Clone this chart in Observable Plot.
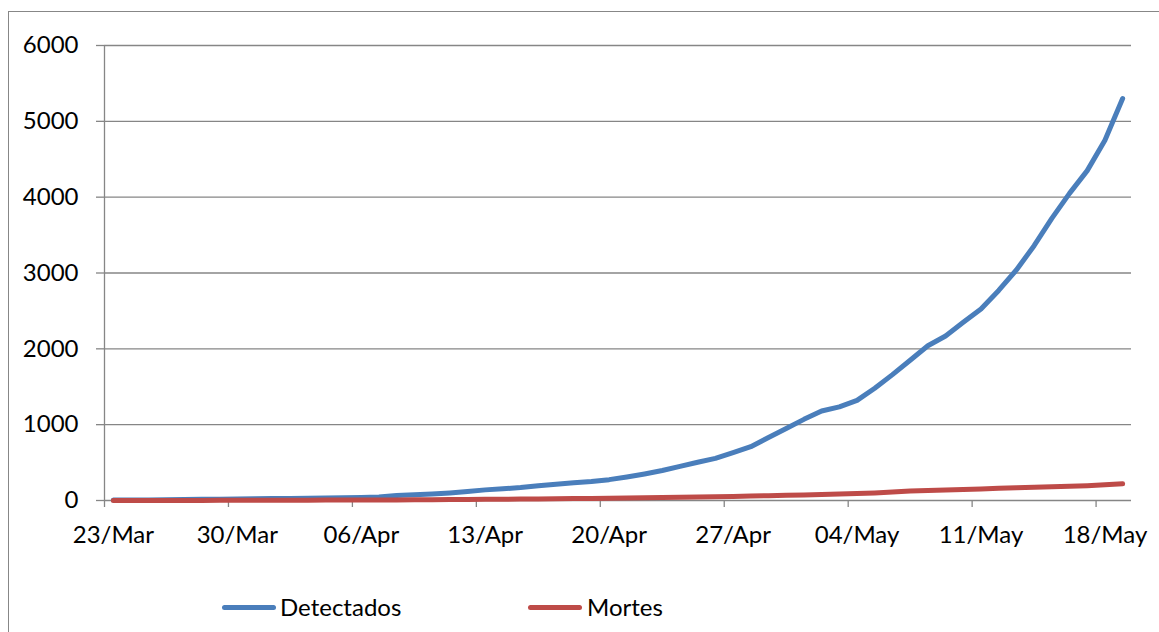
<!DOCTYPE html>
<html>
<head>
<meta charset="utf-8">
<script src="https://cdn.jsdelivr.net/npm/d3@7"></script>
<script src="https://cdn.jsdelivr.net/npm/@observablehq/plot@0.6"></script>
<style>
  body { margin: 0; background: #fff; font-family: Lato, "Open Sans", sans-serif; }
  #wrap { position: relative; width: 1159px; height: 632px; overflow: hidden; background: #fff; }
  #frame { position: absolute; left: 8px; top: 11px; width: 1400px; height: 900px; border: 1px solid #878787; box-sizing: border-box; }
  #chart { position: absolute; left: 0; top: 0; }
  #legend { position: absolute; left: 0; top: 592px; width: 1159px; height: 32px; font-size: 24px; color: #000; }
  .sw { position: absolute; top: 13px; width: 54px; height: 5px; border-radius: 3px; }
  .lb { position: absolute; top: 0; line-height: 30px; }
</style>
</head>
<body>
<div id="wrap">
  <div id="frame"></div>
  <div id="chart"></div>
  <div id="legend"></div>
</div>
<script>
// ---- data ----
const startDate = "2020-03-23";
const seriesNames = ["Detectados", "Mortes"];
const seriesColors = ["#4A7EBB", "#BE4B48"];
const detectados = [
  5, 6, 8, 10, 12, 15, 18,
  20, 22, 25, 28, 30, 33, 36,
  38, 45, 65, 75, 85, 100, 120,
  140, 155, 170, 195, 215, 235, 250,
  275, 310, 350, 395, 450, 505, 555,
  630, 710, 830, 950, 1070, 1180, 1235,
  1320, 1480, 1660, 1850, 2040, 2170, 2350,
  2525, 2770, 3040, 3360, 3720, 4050, 4350,
  4750, 5300
];
const mortes = [
  0, 0, 0, 1, 1, 1, 2,
  2, 3, 3, 4, 4, 5, 5,
  6, 7, 8, 9, 10, 12, 14,
  15, 17, 19, 21, 23, 25, 27,
  29, 32, 35, 38, 42, 46, 50,
  54, 58, 63, 68, 74, 80, 86,
  93, 100, 112, 125, 132, 138, 145,
  152, 160, 168, 174, 180, 188, 195,
  207, 220
];
const yTicks = [0, 1000, 2000, 3000, 4000, 5000, 6000];
const xTickLabels = ["23/Mar", "30/Mar", "06/Apr", "13/Apr", "20/Apr", "27/Apr", "04/May", "11/May", "18/May"];

// ---- build ----
const start = new Date(startDate + "T00:00:00Z");
const days = detectados.map((_, i) => d3.utcDay.offset(start, i));
const rows = [];
seriesNames.forEach((name, s) => {
  const vals = s === 0 ? detectados : mortes;
  vals.forEach((v, i) => rows.push({date: days[i], value: v, series: name}));
});
const domainX = [d3.utcHour.offset(days[0], -12), d3.utcHour.offset(days[days.length - 1], 12)];
const labelDates = xTickLabels.map((_, k) => days[k * 7]);
const boundaryDates = d3.range(0, days.length + 1, 7).map(i => d3.utcHour.offset(d3.utcDay.offset(start, i), -12));

const W = 1159, H = 575;
const chart = Plot.plot({
  width: W,
  height: H,
  marginLeft: 104,
  marginRight: 28,
  marginTop: 45,
  marginBottom: H - 500,
  style: {fontFamily: "Lato, 'Open Sans', sans-serif", fontSize: "24px", color: "#000", background: "transparent", overflow: "visible"},
  x: {type: "utc", domain: domainX},
  y: {domain: [0, 6000]},
  color: {domain: seriesNames, range: seriesColors},
  marks: [
    Plot.gridY(yTicks, {stroke: "#868686", strokeOpacity: 1, strokeWidth: 1.3}),
    Plot.axisY(yTicks, {tickSize: 8, tickPadding: 18, stroke: "#868686", strokeWidth: 1.3, fill: "#000", label: null, tickFormat: d => String(d)}),
    Plot.ruleX([domainX[0]], {stroke: "#868686", strokeWidth: 1.3}),
    Plot.axisX(boundaryDates, {tickSize: 7, tickFormat: () => "", stroke: "#868686", strokeWidth: 1.3, label: null}),
    Plot.axisX(labelDates, {tickSize: 0, tickPadding: 25, fill: "#000", label: null, tickFormat: (d, i) => xTickLabels[i]}),
    Plot.line(rows, {x: "date", y: "value", z: "series", stroke: "series", strokeWidth: 5, strokeLinecap: "round", strokeLinejoin: "round"})
  ]
});
document.getElementById("chart").appendChild(chart);

// ---- legend ----
const legend = document.getElementById("legend");
const legendPos = [[222, 280], [528, 587]];
seriesNames.forEach((name, s) => {
  const sw = document.createElement("div");
  sw.className = "sw";
  sw.style.left = legendPos[s][0] + "px";
  sw.style.background = seriesColors[s];
  legend.appendChild(sw);
  const lb = document.createElement("div");
  lb.className = "lb";
  lb.style.left = legendPos[s][1] + "px";
  lb.textContent = name;
  legend.appendChild(lb);
});
</script>
</body>
</html>
